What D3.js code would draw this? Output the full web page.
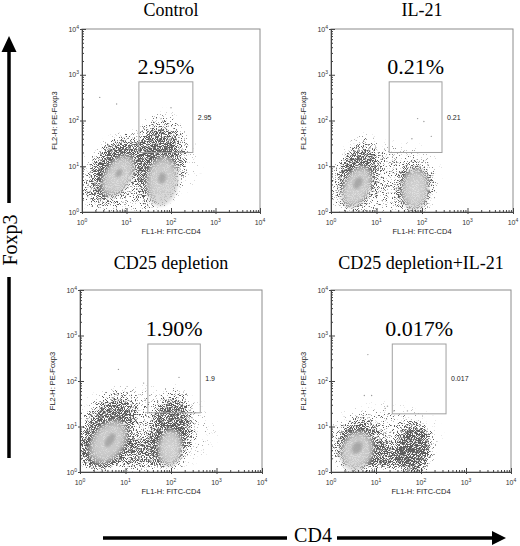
<!DOCTYPE html>
<html>
<head>
<meta charset="utf-8">
<title>Foxp3 vs CD4</title>
<script src="https://cdn.jsdelivr.net/npm/d3@7"></script>
<style>
  body { margin: 0; background: #fff; }
  text { font-family: "Liberation Sans", Arial, sans-serif; }
  text.serif { font-family: "Liberation Serif", "Times New Roman", "DejaVu Serif", serif; }
</style>
</head>
<body>
<script>
// ---- data ----
var panelTitles = ["Control", "IL-21", "CD25 depletion", "CD25 depletion+IL-21"];
var percentLabels = ["2.95%", "0.21%", "1.90%", "0.017%"];
var gateLabels = ["2.95", "0.21", "1.9", "0.017"];
// gate limits, CD4 (FL1) and Foxp3 (FL2) fluorescence
var gateCD4 = [[19, 310], [19, 275], [31, 440], [23, 360]];
var gateFoxp3 = [[20, 700], [20, 700], [20, 650], [19, 650]];
var decades = [0, 1, 2, 3, 4];

// population density clouds: panel, log10 CD4, log10 Foxp3, major, minor (decades), tilt (deg), density
var halos = [
  [0, 1.19, 0.81, 1.60, 1.05, 20, 0.45],
  [0, 0.67, 0.92, 1.00, 0.56, 62, 0.88],
  [0, 1.71, 1.14, 1.18, 0.70, 82, 0.88],
  [1, 1.19, 0.70, 1.35, 0.90, 10, 0.45],
  [1, 0.57, 0.79, 1.00, 0.56, 75, 0.88],
  [1, 1.85, 0.52, 0.70, 0.50, 85, 0.88],
  [2, 1.32, 0.92, 1.80, 1.05, 0, 0.45],
  [2, 1.32, 0.44, 0.90, 0.46, 0, 0.65],
  [2, 0.44, 0.44, 0.58, 0.50, 0, 0.8],
  [2, 0.62, 0.92, 1.08, 0.64, 65, 0.88],
  [2, 2.02, 0.92, 1.04, 0.55, 85, 0.88],
  [3, 1.09, 0.70, 1.45, 0.90, 5, 0.4],
  [3, 1.20, 0.37, 0.60, 0.38, 0, 0.72],
  [3, 0.60, 0.59, 0.74, 0.62, 75, 0.88],
  [3, 1.84, 0.50, 0.76, 0.50, 85, 1.0]
];
// light high-density interiors: panel, log10 CD4, log10 Foxp3, major, minor, tilt
var inners = [
  [0, 0.81, 0.79, 0.53, 0.31, 58],
  [0, 1.80, 0.68, 0.57, 0.37, 82],
  [1, 0.57, 0.55, 0.50, 0.31, 65],
  [1, 1.85, 0.50, 0.48, 0.31, 85],
  [2, 0.62, 0.66, 0.55, 0.37, 55],
  [2, 1.98, 0.53, 0.42, 0.28, 85],
  [3, 0.58, 0.46, 0.46, 0.37, 70]
];
// darker centres of the densest populations
var cores = [
  [0, 0.83, 0.85, 0.11, 0.07, 55],
  [0, 1.80, 0.74, 0.13, 0.09, 80],
  [1, 0.59, 0.63, 0.15, 0.09, 60],
  [2, 0.66, 0.70, 0.18, 0.09, 55],
  [3, 0.58, 0.53, 0.15, 0.11, 60]
];
// single outlying events: panel, CD4, Foxp3
var events = [
  [0, 2.5, 320], [0, 100, 190], [0, 6, 230], [0, 60, 110],
  [1, 80, 110], [1, 110, 95], [1, 160, 45], [1, 60, 40],
  [2, 7, 180], [2, 25, 90], [2, 150, 120],
  [3, 6.6, 380], [3, 5.5, 48], [3, 8, 48], [3, 18, 28], [3, 16, 25], [3, 50, 22], [3, 25, 22]
];

// ---- layout ----
var frames = [
  { x0: 82, x1: 260, y0: 29, y1: 212, titleY: 16 },
  { x0: 331, x1: 513, y0: 29, y1: 212, titleY: 16 },
  { x0: 80, x1: 262, y0: 290, y1: 472, titleY: 269 },
  { x0: 331, x1: 511, y0: 290, y1: 472, titleY: 269 }
];

var svg = d3.select("body").append("svg")
  .attr("width", 520).attr("height", 546);

var defs = svg.append("defs");

// speckle texture: dots appear where the cloud's density beats the noise
var speck = defs.append("filter").attr("id", "speck")
  .attr("filterUnits", "userSpaceOnUse")
  .attr("x", 0).attr("y", 0).attr("width", 520).attr("height", 546)
  .attr("color-interpolation-filters", "sRGB");
speck.append("feTurbulence").attr("type", "fractalNoise")
  .attr("baseFrequency", 1.1).attr("numOctaves", 2).attr("seed", 7).attr("result", "noise");
speck.append("feColorMatrix").attr("in", "noise").attr("type", "matrix")
  .attr("values", "0 0 0 0 0  0 0 0 0 0  0 0 0 0 0  2.2 0 0 0 -0.6").attr("result", "na");
speck.append("feComposite").attr("in", "SourceAlpha").attr("in2", "na")
  .attr("operator", "arithmetic").attr("k1", 0).attr("k2", 4).attr("k3", 4).attr("k4", -4)
  .attr("result", "m");
speck.append("feFlood").attr("flood-color", "#5c5c5c").attr("result", "c");
speck.append("feComposite").attr("in", "c").attr("in2", "m").attr("operator", "in");

defs.append("filter").attr("id", "soft")
  .append("feGaussianBlur").attr("stdDeviation", 1.5);
defs.append("filter").attr("id", "softer")
  .append("feGaussianBlur").attr("stdDeviation", 1.6);

var hg = defs.append("radialGradient").attr("id", "haloGrad");
hg.append("stop").attr("offset", 0).attr("stop-color", "#000").attr("stop-opacity", 0.8);
hg.append("stop").attr("offset", 0.55).attr("stop-color", "#000").attr("stop-opacity", 0.68);
hg.append("stop").attr("offset", 1).attr("stop-color", "#000").attr("stop-opacity", 0);

var ig = defs.append("radialGradient").attr("id", "innerGrad");
ig.append("stop").attr("offset", 0).attr("stop-color", "#e2e2e2");
ig.append("stop").attr("offset", 0.7).attr("stop-color", "#d2d2d2");
ig.append("stop").attr("offset", 1).attr("stop-color", "#c4c4c4").attr("stop-opacity", 0.6);

var minorTicks = [];
for (var e = 0; e < 4; e++) {
  for (var m = 2; m < 10; m++) minorTicks.push(m * Math.pow(10, e));
}
var majorTicks = decades.map(function (d) { return Math.pow(10, d); });

function ellipses(sel, rows, x, y, dec) {
  return sel.selectAll("ellipse").data(rows).join("ellipse")
    .attr("rx", function (d) { return d[3] * dec; })
    .attr("ry", function (d) { return d[4] * dec; })
    .attr("transform", function (d) {
      return "translate(" + x(Math.pow(10, d[1])) + "," + y(Math.pow(10, d[2])) + ") rotate(" + (-d[5]) + ")";
    });
}

function powLabel(sel, e) {
  sel.append("tspan").text("10");
  sel.append("tspan").attr("dy", -3).attr("font-size", 5).text(e);
}

frames.forEach(function (f, i) {
  var x = d3.scaleLog().domain([1, 1e4]).range([f.x0, f.x1]);
  var y = d3.scaleLog().domain([1, 1e4]).range([f.y1, f.y0]);
  var dec = ((f.x1 - f.x0) + (f.y1 - f.y0)) / 8;
  var g = svg.append("g");

  defs.append("clipPath").attr("id", "clip" + i)
    .append("rect").attr("x", f.x0).attr("y", f.y0)
    .attr("width", f.x1 - f.x0).attr("height", f.y1 - f.y0);

  var plot = g.append("g").attr("clip-path", "url(#clip" + i + ")");
  var pick = function (rows) { return rows.filter(function (r) { return r[0] === i; }); };

  ellipses(plot.append("g").attr("filter", "url(#speck)"), pick(halos), x, y, dec)
    .attr("fill", "url(#haloGrad)")
    .attr("fill-opacity", function (d) { return d[6]; });

  ellipses(plot.append("g").attr("filter", "url(#soft)").attr("opacity", 0.9), pick(inners), x, y, dec)
    .attr("fill", "url(#innerGrad)");

  ellipses(plot.append("g").attr("filter", "url(#softer)"), pick(cores), x, y, dec)
    .attr("fill", "#9c9c9c").attr("fill-opacity", 0.8);

  plot.append("g").selectAll("circle").data(pick(events)).join("circle")
    .attr("cx", function (d) { return x(d[1]); })
    .attr("cy", function (d) { return y(d[2]); })
    .attr("r", 0.7).attr("fill", "#999");

  // gate
  var gx = gateCD4[i], gy = gateFoxp3[i];
  g.append("rect")
    .attr("x", x(gx[0])).attr("y", y(gy[1]))
    .attr("width", x(gx[1]) - x(gx[0])).attr("height", y(gy[0]) - y(gy[1]))
    .attr("fill", "none").attr("stroke", "#a0a0a0").attr("stroke-width", 1);

  g.append("text")
    .attr("x", x(gx[1]) + 5)
    .attr("y", (y(gy[0]) + y(gy[1])) / 2 + 2.5)
    .attr("font-size", 7).attr("fill", "#222")
    .text(gateLabels[i]);

  g.append("text").attr("class", "serif")
    .attr("x", (x(gx[0]) + x(gx[1])) / 2)
    .attr("y", y(gy[1]) - 8)
    .attr("text-anchor", "middle")
    .attr("font-size", 22)
    .text(percentLabels[i]);

  g.append("text").attr("class", "serif")
    .attr("x", (f.x0 + f.x1) / 2)
    .attr("y", f.titleY)
    .attr("text-anchor", "middle")
    .attr("font-size", 18)
    .text(panelTitles[i]);

  // frame
  g.append("rect")
    .attr("x", f.x0).attr("y", f.y0)
    .attr("width", f.x1 - f.x0).attr("height", f.y1 - f.y0)
    .attr("fill", "none").attr("stroke", "#8c8c8c");

  // axes
  var bx = g.append("g").attr("transform", "translate(0," + f.y1 + ")").attr("color", "#444");
  bx.append("g").call(d3.axisBottom(x).tickValues(minorTicks).tickSize(-2).tickFormat(""))
    .call(function (a) { a.select(".domain").remove(); });
  bx.append("g").call(d3.axisBottom(x).tickValues(majorTicks).tickSizeInner(-4).tickSizeOuter(0).tickFormat(""))
    .call(function (a) { a.selectAll(".tick line").attr("y1", 2); });

  var ly = g.append("g").attr("transform", "translate(" + f.x0 + ",0)").attr("color", "#444");
  ly.append("g").call(d3.axisLeft(y).tickValues(minorTicks).tickSize(-2).tickFormat(""))
    .call(function (a) { a.select(".domain").remove(); });
  ly.append("g").call(d3.axisLeft(y).tickValues(majorTicks).tickSizeInner(-4).tickSizeOuter(0).tickFormat(""))
    .call(function (a) { a.selectAll(".tick line").attr("x1", -2); });

  decades.forEach(function (d) {
    g.append("text")
      .attr("x", x(Math.pow(10, d))).attr("y", f.y1 + 12.5)
      .attr("text-anchor", "middle").attr("font-size", 7).attr("fill", "#333")
      .call(powLabel, d);
    g.append("text")
      .attr("x", f.x0 - 3).attr("y", y(Math.pow(10, d)) + 2.5)
      .attr("text-anchor", "end").attr("font-size", 7).attr("fill", "#333")
      .call(powLabel, d);
  });

  g.append("text")
    .attr("x", (f.x0 + f.x1) / 2).attr("y", f.y1 + 22)
    .attr("text-anchor", "middle").attr("font-size", 7.5).attr("fill", "#222")
    .text("FL1-H: FITC-CD4");

  g.append("text")
    .attr("transform", "translate(" + (f.x0 - 25) + "," + ((f.y0 + f.y1) / 2) + ") rotate(-90)")
    .attr("text-anchor", "middle").attr("font-size", 7.5).attr("fill", "#222")
    .text("FL2-H: PE-Foxp3");
});

// big axis arrows
svg.append("line").attr("x1", 9).attr("x2", 9).attr("y1", 50).attr("y2", 203)
  .attr("stroke", "#000").attr("stroke-width", 3.5);
svg.append("line").attr("x1", 9).attr("x2", 9).attr("y1", 277).attr("y2", 458)
  .attr("stroke", "#000").attr("stroke-width", 3.5);
svg.append("path").attr("d", "M9,36 L16.5,52 L1.5,52 Z").attr("fill", "#000");
svg.append("text").attr("class", "serif")
  .attr("transform", "translate(17,240) rotate(-90)")
  .attr("text-anchor", "middle")
  .attr("font-size", 20)
  .text("Foxp3");

svg.append("line").attr("x1", 103).attr("x2", 287).attr("y1", 538).attr("y2", 538)
  .attr("stroke", "#000").attr("stroke-width", 3.5);
svg.append("line").attr("x1", 337).attr("x2", 494).attr("y1", 538).attr("y2", 538)
  .attr("stroke", "#000").attr("stroke-width", 3.5);
svg.append("path").attr("d", "M506,538 L492,531 L492,545 Z").attr("fill", "#000");
svg.append("text").attr("class", "serif")
  .attr("x", 313).attr("y", 542)
  .attr("text-anchor", "middle")
  .attr("font-size", 20)
  .text("CD4");
</script>
</body>
</html>
